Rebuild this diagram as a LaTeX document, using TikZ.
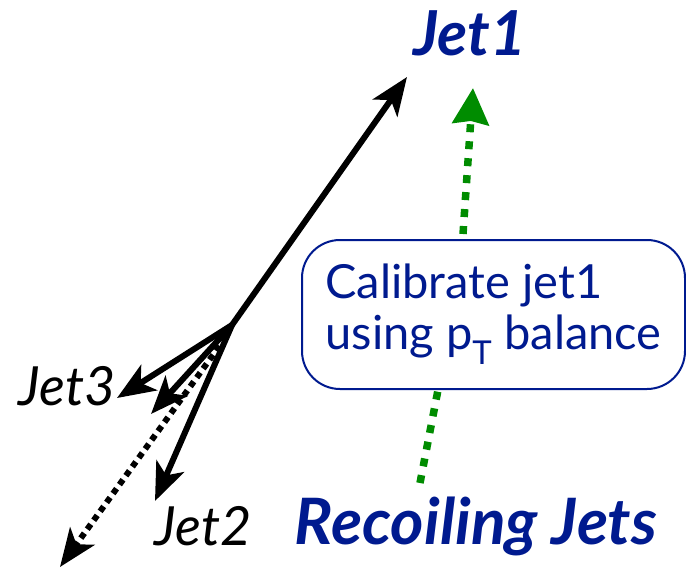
\documentclass[tikz,border=0pt]{standalone}
\usepackage{fontspec}
\setmainfont{Lato}
\usetikzlibrary{arrows.meta}
\definecolor{navy}{RGB}{0,26,143}
\definecolor{dgreen}{RGB}{0,140,0}
\tikzset{
  jetarrow/.style={line width=6pt, -{Stealth[length=38pt,width=30pt,inset=10pt]}},
  jetdots/.style={jetarrow, dash pattern=on 6pt off 5pt},
  greendots/.style={dgreen, line width=7.5pt, dash pattern=on 8pt off 9pt},
  blueTitle/.style={navy, font=\fontsize{62}{66}\selectfont\bfseries\itshape},
  jetlabel/.style={black, font=\fontsize{54}{60}\selectfont\itshape},
  calbox/.style={draw=navy, line width=2pt, rounded corners=38pt, text=navy, align=left,
    minimum width=383pt, minimum height=149pt, inner sep=0pt,
    font=\fontsize{47}{51}\selectfont}
}
\begin{document}
\begin{tikzpicture}[x=1pt,y=-1pt]
\useasboundingbox (0,0) rectangle (686,568);
% jets
\coordinate (O) at (232,325);
\coordinate (O2) at (226,337);
\coordinate (t1) at (407,77);
\coordinate (t3) at (117,398);
\coordinate (tm) at (151,414);
\coordinate (t2) at (155,501);
\coordinate (td) at (60,567);
\draw[jetarrow] (O) -- (t1);
\draw[jetarrow] (O) -- (t3);
\draw[jetarrow] (O) -- (tm);
\draw[jetarrow] (O) -- (t2);
\draw[jetdots] (O2) -- (td);
% labels
\node[blueTitle] (jet1) at (470,33) {Jet1};
\node[jetlabel] (jet3) at (67,386) {Jet3};
\node[jetlabel] (jet2) at (203,526) {Jet2};
\node[blueTitle, font=\fontsize{64}{68}\selectfont\bfseries\itshape] (recoil) at (476,526) {Recoiling Jets};
% box
\node[calbox] (box) at (493.5,314.5) {Calibrate jet1\\using p\textsubscript{T} balance};
% green arrows
\coordinate (g0) at (420,483);
\coordinate (g1) at (463,234);
\coordinate (gt) at (473,88);
\draw[greendots] (g0) -- (box.south -| 438,0);
\draw[greendots, -{Triangle[length=36pt,width=36pt,inset=3pt]}] (g1) -- (gt);
\end{tikzpicture}
\end{document}
